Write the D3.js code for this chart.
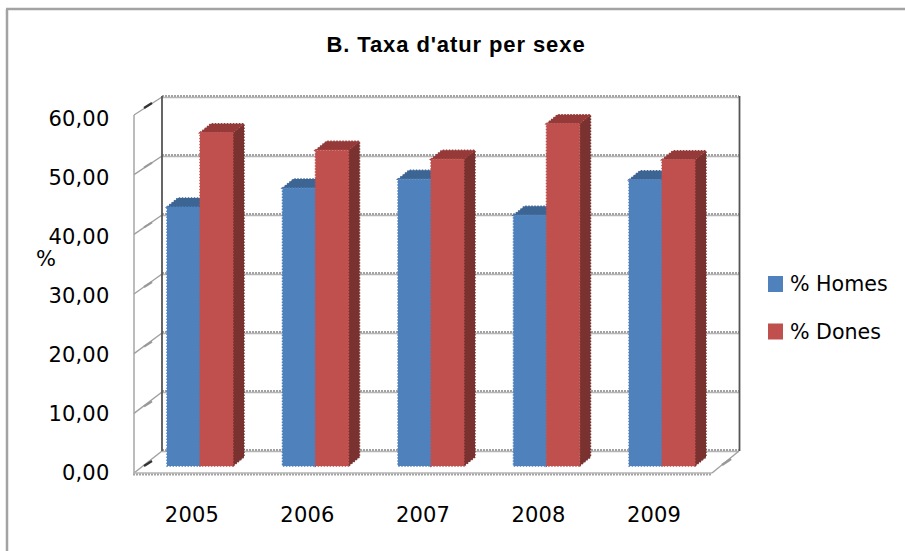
<!DOCTYPE html>
<html>
<head>
<meta charset="utf-8">
<script src="https://cdn.jsdelivr.net/npm/d3@7"></script>
<style>
html, body { margin: 0; padding: 0; background: #fff; overflow: hidden; }
svg { display: block; }
text { fill: #000; font-family: "DejaVu Sans", sans-serif; }
</style>
</head>
<body>
<div id="chart"></div>
<script>
var years = ['2005', '2006', '2007', '2008', '2009'];
var homes = [43.9, 47.1, 48.6, 42.5, 48.5];
var dones = [56.5, 53.5, 52.0, 58.0, 51.9];
var seriesNames = ['% Homes', '% Dones'];
var yTicks = [0, 10, 20, 30, 40, 50, 60];
var colors = ['#4f81bd', '#c0504d'];
var topColors = ['#3d6594', '#953a38'];
var sideColors = ['#345779', '#7a3230'];

var width = 905, height = 551;
var depthX = 11, depthY = 9;

var svg = d3.select('#chart').append('svg')
	.attr('width', width)
	.attr('height', height);

// outer frame, only top and left show in the crop
svg.append('line').attr('x1', 6).attr('x2', width).attr('y1', 9).attr('y2', 9)
	.attr('stroke', '#a3a3a3').attr('stroke-width', 2.5);
svg.append('line').attr('x1', 7).attr('x2', 7).attr('y1', 9).attr('y2', height)
	.attr('stroke', '#a3a3a3').attr('stroke-width', 2.5);

svg.append('text')
	.attr('x', 456).attr('y', 52)
	.attr('text-anchor', 'middle')
	.style('font-family', '"Liberation Sans", sans-serif')
	.style('font-weight', 'bold')
	.style('font-size', '22px')
	.style('letter-spacing', '0.9px')
	.text("B. Taxa d'atur per sexe");

// planes of the 3d box: back wall, front edge, bars, and the axis labels
var yBack = d3.scaleLinear().domain([0, 60]).range([451, 97]);
var yFront = d3.scaleLinear().domain([0, 60]).range([473, 115]);
var yBar = d3.scaleLinear().domain([0, 60]).range([466, 112]);
var yLabel = d3.scaleLinear().domain([0, 60]).range([473, 119]);
var xGroup = d3.scaleBand().domain(years).range([138.125, 723.875]).paddingInner(0.4286).paddingOuter(0.25);
var xSeries = d3.scaleBand().domain(seriesNames).range([0, xGroup.bandwidth()]);

var walls = svg.append('g').attr('fill', 'none');

walls.selectAll('.gridBase')
	.data(yTicks)
	.enter()
	.append('line')
	.attr('class', 'gridBase')
	.attr('x1', 162).attr('x2', 739)
	.attr('y1', function(d){ return yBack(d) + 0.5; })
	.attr('y2', function(d){ return yBack(d) + 0.5; })
	.attr('stroke', '#b5b5b5')
	.attr('stroke-width', 1.5);

walls.selectAll('.grid')
	.data(yTicks)
	.enter()
	.append('line')
	.attr('class', 'grid')
	.attr('x1', 162).attr('x2', 739)
	.attr('y1', function(d){ return yBack(d) - 1; })
	.attr('y2', function(d){ return yBack(d) - 1; })
	.attr('stroke', '#a3a3a3')
	.attr('stroke-width', 2)
	.attr('stroke-dasharray', '2 1');

walls.selectAll('.side')
	.data(yTicks)
	.enter()
	.append('line')
	.attr('class', 'side')
	.attr('x1', 134).attr('x2', 162)
	.attr('y1', function(d){ return yFront(d); })
	.attr('y2', function(d){ return yBack(d); })
	.attr('stroke', '#a0a0a0')
	.attr('stroke-width', 1.4);

// little dark marks half way along the side wall lines
walls.selectAll('.sideMark')
	.data(yTicks)
	.enter()
	.append('line')
	.attr('class', 'sideMark')
	.attr('x1', 144).attr('x2', 152)
	.attr('y1', function(d){ return yFront(d) - 7; })
	.attr('y2', function(d){ return yFront(d) - 12; })
	.attr('stroke', function(d){ return (d === 0 || d === 60) ? '#333' : '#999'; })
	.attr('stroke-width', 2.2);

walls.append('line').attr('x1', 162).attr('x2', 162).attr('y1', 96).attr('y2', 451)
	.attr('stroke', '#555').attr('stroke-width', 1.8);
walls.append('line').attr('x1', 739.5).attr('x2', 739.5).attr('y1', 96).attr('y2', 451)
	.attr('stroke', '#555').attr('stroke-width', 1.8);
walls.append('line').attr('x1', 134).attr('x2', 134).attr('y1', 115).attr('y2', 473)
	.attr('stroke', '#a0a0a0').attr('stroke-width', 1.4);

// floor
walls.append('line').attr('x1', 133).attr('x2', 712).attr('y1', 473).attr('y2', 473)
	.attr('stroke', '#b5b5b5').attr('stroke-width', 1.5);
walls.append('line').attr('x1', 133).attr('x2', 712).attr('y1', 474.5).attr('y2', 474.5)
	.attr('stroke', '#a3a3a3').attr('stroke-width', 2).attr('stroke-dasharray', '2 1');
walls.append('line').attr('x1', 712).attr('x2', 739).attr('y1', 473).attr('y2', 451)
	.attr('stroke', '#a0a0a0').attr('stroke-width', 1.4);
walls.append('line').attr('x1', 722).attr('x2', 731).attr('y1', 465).attr('y2', 459)
	.attr('stroke', '#999').attr('stroke-width', 2.5);

var rows = [];
years.forEach(function(year, i){
	rows.push({year: year, s: 0, value: homes[i]});
	rows.push({year: year, s: 1, value: dones[i]});
});

var bars = svg.selectAll('.bar')
	.data(rows)
	.enter()
	.append('g')
	.attr('class', 'bar');

function barX(d){ return xGroup(d.year) + xSeries(seriesNames[d.s]); }

function sidePath(d){
	var x = barX(d) + xSeries.bandwidth();
	var top = yBar(d.value), base = yBar(0);
	return 'M' + x + ',' + top + 'L' + (x + depthX) + ',' + (top - depthY) +
		'L' + (x + depthX) + ',' + (base - depthY) + 'L' + x + ',' + base + 'Z';
}

function topPath(d){
	var x = barX(d), w = xSeries.bandwidth(), top = yBar(d.value);
	return 'M' + x + ',' + top + 'L' + (x + depthX) + ',' + (top - depthY) +
		'L' + (x + w + depthX) + ',' + (top - depthY) + 'L' + (x + w) + ',' + top + 'Z';
}

// dashed stroke in the same colour gives the saw tooth edge of the bars
bars.append('path')
	.attr('d', sidePath)
	.attr('fill', function(d){ return sideColors[d.s]; })
	.attr('stroke', function(d){ return sideColors[d.s]; })
	.attr('stroke-width', 1.5)
	.attr('stroke-dasharray', '1.5 1.5');

bars.append('path')
	.attr('d', topPath)
	.attr('fill', function(d){ return topColors[d.s]; })
	.attr('stroke', function(d){ return topColors[d.s]; })
	.attr('stroke-width', 1.5)
	.attr('stroke-dasharray', '1.5 1.5');

bars.append('rect')
	.attr('x', barX)
	.attr('y', function(d){ return yBar(d.value); })
	.attr('width', xSeries.bandwidth())
	.attr('height', function(d){ return yBar(0) - yBar(d.value); })
	.attr('fill', function(d){ return colors[d.s]; })
	.attr('stroke', function(d){ return colors[d.s]; })
	.attr('stroke-width', 1.5)
	.attr('stroke-dasharray', '1.5 1.5');

// red front face goes over the blue saw tooth
bars.filter(function(d){ return d.s === 0; }).raise();
bars.filter(function(d){ return d.s === 1; }).raise();

var yAxis = d3.axisLeft(yLabel)
	.tickValues(yTicks)
	.tickSize(0)
	.tickPadding(0)
	.tickFormat(function(d){ return d3.format('.2f')(d).replace('.', ','); });

var yG = svg.append('g').attr('transform', 'translate(109.5,0)').call(yAxis);
yG.select('.domain').remove();
yG.selectAll('text')
	.style('font-family', '"DejaVu Sans", sans-serif')
	.style('font-size', '21px')
	.style('letter-spacing', '0.2px');

// year labels sit on the front edge, left of the bar groups
var xAxis = d3.axisBottom(xGroup).tickSize(0).tickPadding(0);
var xG = svg.append('g').attr('transform', 'translate(-8,507)').call(xAxis);
xG.select('.domain').remove();
xG.selectAll('text')
	.style('font-family', '"DejaVu Sans", sans-serif')
	.style('font-size', '21px')
	.style('letter-spacing', '0.2px');

svg.append('text')
	.attr('x', 46).attr('y', 266)
	.attr('text-anchor', 'middle')
	.style('font-size', '21px')
	.text('%');

var legend = svg.selectAll('.legend')
	.data(seriesNames)
	.enter()
	.append('g')
	.attr('class', 'legend')
	.attr('transform', function(d, i){ return 'translate(768,' + (276 + i * 47.5) + ')'; });

legend.append('rect')
	.attr('width', 15)
	.attr('height', 16)
	.attr('fill', function(d, i){ return colors[i]; });

legend.append('text')
	.attr('x', 22)
	.attr('y', 15)
	.style('font-size', '20.6px')
	.text(function(d){ return d; });
</script>
</body>
</html>
